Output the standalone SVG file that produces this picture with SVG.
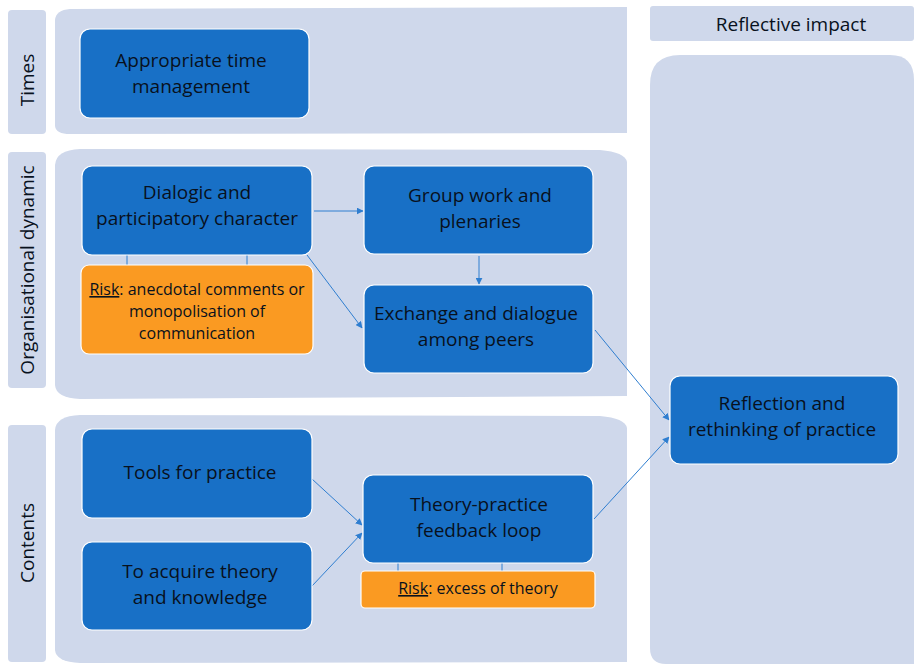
<svg xmlns="http://www.w3.org/2000/svg" width="914" height="664" viewBox="0 0 914 664">
  <defs>
    <style>
      .band { fill: #cfd8eb; }
      .node { fill: #1870c6; stroke: #ffffff; stroke-width: 1.2; }
      .risk { fill: #fa9a22; stroke: #ffffff; stroke-width: 1.2; }
      .t { font-family: "Open Sans", "Liberation Sans", sans-serif; font-size: 19px; fill: #08111d; text-anchor: middle; }
      .ts { font-family: "Open Sans", "Liberation Sans", sans-serif; font-size: 16px; fill: #08111d; text-anchor: middle; }
      .conn { stroke: #2f7ed0; stroke-width: 1; fill: none; }
      .tie { stroke: #2f7ed0; stroke-width: 1; fill: none; }
    </style>
    <marker id="arrow" viewBox="0 0 10 10" refX="9" refY="5" markerWidth="7" markerHeight="7" orient="auto" markerUnits="userSpaceOnUse">
      <path d="M0,0 L10,5 L0,10 Z" fill="#2f7ed0"/>
    </marker>
  </defs>

  <!-- swimlane backgrounds -->
  <g id="lanes">
    <rect class="band" x="8" y="10" width="38" height="124" rx="4"/>
    <rect class="band" x="8" y="152" width="38" height="236" rx="4"/>
    <rect class="band" x="8" y="425" width="38" height="237" rx="4"/>
    <path class="band" d="M55,20 Q56,10 70,9 L627,7 L627,133 L70,134 Q56,134 55,126 Z"/>
    <path class="band" d="M55,165 Q56,150 80,149 L600,150 Q625,152 627,162 L627,396 L80,399 Q56,398 55,385 Z"/>
    <path class="band" d="M55,430 Q56,416 80,415 L600,416 Q625,418 627,428 L627,662 L80,663 Q56,662 55,650 Z"/>
    <rect class="band" x="650" y="6" width="264" height="35" rx="3"/>
    <path class="band" d="M650,85 Q650,55 680,55 L890,55 Q914,55 914,80 L914,664 L666,664 Q650,664 650,648 Z"/>
  </g>

  <!-- lane titles -->
  <g id="lane-titles">
    <text class="t" transform="translate(34,80) rotate(-90)">Times</text>
    <text class="t" transform="translate(34,270) rotate(-90)">Organisational dynamic</text>
    <text class="t" transform="translate(34,543) rotate(-90)">Contents</text>
    <text class="t" x="791" y="31">Reflective impact</text>
  </g>

  <!-- connectors -->
  <g id="connectors">
    <line class="conn" x1="314" y1="211" x2="363" y2="211" marker-end="url(#arrow)"/>
    <line class="conn" x1="307" y1="255" x2="362" y2="328" marker-end="url(#arrow)"/>
    <line class="conn" x1="479" y1="256" x2="479" y2="284" marker-end="url(#arrow)"/>
    <line class="conn" x1="595" y1="330" x2="669" y2="420" marker-end="url(#arrow)"/>
    <line class="conn" x1="594" y1="519" x2="669" y2="437" marker-end="url(#arrow)"/>
    <line class="conn" x1="312" y1="479" x2="362" y2="525" marker-end="url(#arrow)"/>
    <line class="conn" x1="312" y1="586" x2="362" y2="533" marker-end="url(#arrow)"/>
    <line class="tie" x1="127" y1="255" x2="127" y2="265"/>
    <line class="tie" x1="247" y1="255" x2="247" y2="265"/>
    <line class="tie" x1="398" y1="563" x2="398" y2="571"/>
    <line class="tie" x1="502" y1="563" x2="502" y2="571"/>
  </g>

  <g id="node-time">
    <rect class="node" x="80" y="29" width="229" height="89" rx="10"/>
    <text class="t" x="191" y="67">Appropriate time</text>
    <text class="t" x="191" y="93">management</text>
  </g>

  <g id="node-dialogic">
    <rect class="node" x="82" y="166" width="230" height="89" rx="10"/>
    <text class="t" x="197" y="199">Dialogic and</text>
    <text class="t" x="197" y="225">participatory character</text>
  </g>

  <g id="node-risk-dialogic">
    <rect class="risk" x="81" y="265" width="232" height="89" rx="8"/>
    <text class="ts" x="197" y="295"><tspan text-decoration="underline">Risk</tspan>: anecdotal comments or</text>
    <text class="ts" x="197" y="317">monopolisation of</text>
    <text class="ts" x="197" y="339">communication</text>
  </g>

  <g id="node-group">
    <rect class="node" x="364" y="166" width="229" height="88" rx="10"/>
    <text class="t" x="480" y="202">Group work and</text>
    <text class="t" x="480" y="228">plenaries</text>
  </g>

  <g id="node-exchange">
    <rect class="node" x="364" y="285" width="229" height="88" rx="10"/>
    <text class="t" x="476" y="320">Exchange and dialogue</text>
    <text class="t" x="476" y="346">among peers</text>
  </g>

  <g id="node-tools">
    <rect class="node" x="82" y="429" width="230" height="89" rx="10"/>
    <text class="t" x="200" y="479">Tools for practice</text>
  </g>

  <g id="node-acquire">
    <rect class="node" x="82" y="542" width="230" height="88" rx="10"/>
    <text class="t" x="200" y="578">To acquire theory</text>
    <text class="t" x="200" y="604">and knowledge</text>
  </g>

  <g id="node-theory">
    <rect class="node" x="363" y="475" width="230" height="88" rx="10"/>
    <text class="t" x="479" y="511">Theory-practice</text>
    <text class="t" x="479" y="537">feedback loop</text>
  </g>

  <g id="node-risk-theory">
    <rect class="risk" x="361" y="571" width="234" height="37" rx="4"/>
    <text class="ts" x="478" y="594"><tspan text-decoration="underline">Risk</tspan>: excess of theory</text>
  </g>

  <g id="node-reflection">
    <rect class="node" x="670" y="376" width="228" height="88" rx="10"/>
    <text class="t" x="782" y="410">Reflection and</text>
    <text class="t" x="782" y="436">rethinking of practice</text>
  </g>
</svg>
